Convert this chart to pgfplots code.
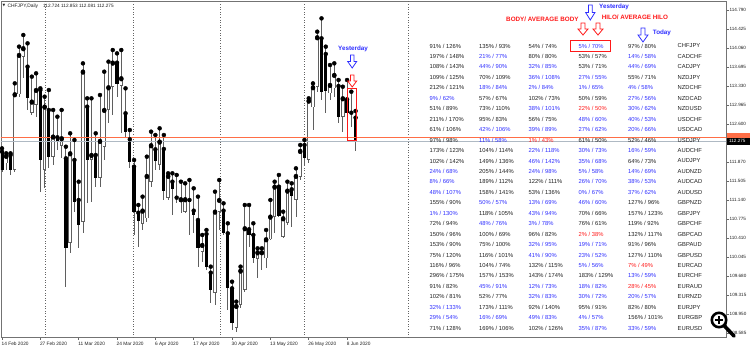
\documentclass[border=0pt]{standalone}
\usepackage{pgfplots}
\pgfplotsset{compat=1.18}
\usepackage{pgfplotstable}
\usepackage{fontspec}
\setmainfont{Liberation Sans}
\newfontfamily\dejavu{DejaVu Sans}
\definecolor{tb}{RGB}{45,45,255}
\definecolor{tr}{RGB}{255,25,25}
\definecolor{tk}{RGB}{30,30,30}
\definecolor{wick}{RGB}{95,95,95}
\definecolor{askc}{RGB}{255,110,70}
\definecolor{bidc}{RGB}{175,185,195}
\definecolor{gridc}{RGB}{100,100,100}
\newcommand\B{\color{tb}}
\newcommand\R{\color{tr}}
\newcommand\ft{\fontsize{5.8}{6}\selectfont}
\newcommand\hb{\fontsize{6.3}{7}\selectfont\bfseries}

\pgfplotstableread{
x o h l c
1 111.846 112.038 111.718 111.987
3 111.718 113.384 111.686 113.173
4 113.173 114.090 113.128 113.929
5 113.897 114.314 113.481 114.058
7 112.808 113.513 112.775 113.032
8 112.968 113.577 112.743 113.256
10 111.718 113.128 111.365 112.936
12 111.974 112.872 111.814 112.359
14 112.179 112.872 111.942 112.327
16 110.308 112.423 110.115 112.038
19 110.724 113.769 110.500 113.609
21 111.910 113.096 111.109 112.006
23 111.558 113.160 111.397 112.275
24 112.166 113.609 111.910 112.872
25 112.872 113.801 112.615 113.308
26 113.308 114.025 112.775 113.782
28 113.340 114.025 112.423 113.481
33 110.679 111.205 110.564 110.936
34 110.788 111.974 110.724 111.602
35 111.493 112.455 111.397 112.192
37 111.814 112.519 111.718 112.263
39 111.173 111.654 111.141 111.602
42 111.109 111.493 110.884 111.154
43 110.916 111.461 110.884 111.154
47 110.147 110.468 109.955 110.275
50 109.346 111.301 109.122 110.916
51 110.916 111.525 110.564 111.141
55 108.673 109.186 108.609 109.102
56 109.122 109.859 109.058 109.782
57 109.410 111.045 109.378 110.596
60 110.000 110.211 109.634 110.134
61 110.115 110.211 109.795 110.134
62 110.019 110.564 109.827 110.384
63 110.384 111.141 110.372 110.820
64 110.820 111.493 110.500 111.397
66 110.436 110.916 110.404 110.788
67 110.705 111.493 110.660 111.320
69 111.141 111.750 110.820 111.602
70 111.590 112.199 111.525 112.083
72 111.910 113.096 111.846 113.051
73 112.923 113.384 112.487 113.308
74 113.320 114.378 113.224 114.269
77 113.192 113.737 113.064 113.352
78 113.288 113.769 113.128 113.545
80 112.743 113.320 112.455 113.096
}\bull

\pgfplotstableread{
x o h l c
0 112.070 112.134 111.686 111.718
2 112.006 112.038 111.622 111.718
6 113.705 114.154 112.872 113.096
9 113.256 113.288 111.301 111.910
11 112.872 113.256 111.750 111.974
13 112.346 112.743 112.102 112.282
15 111.942 112.166 109.474 110.211
17 111.910 112.295 110.916 111.109
18 111.141 111.493 110.211 110.660
20 112.936 113.096 111.077 111.910
22 112.006 112.423 111.397 111.558
27 113.782 113.961 113.128 113.372
29 112.808 113.288 112.327 112.455
30 112.308 112.487 111.750 111.878
31 111.782 111.910 110.468 110.916
32 110.897 111.045 110.243 110.743
36 112.115 112.391 111.718 111.897
38 112.122 112.391 111.141 111.320
40 111.493 111.654 110.852 111.346
41 111.186 111.622 111.077 111.154
44 111.141 111.525 110.468 111.109
45 110.936 111.365 110.500 110.852
46 110.756 111.205 109.859 110.211
48 110.487 110.564 109.795 109.859
49 109.743 109.859 109.154 109.410
52 110.936 111.077 110.468 110.500
53 110.500 110.692 109.025 109.442
54 109.442 109.570 108.641 108.769
58 110.577 111.045 110.243 110.468
59 110.468 110.692 109.923 110.019
65 111.397 111.622 110.820 110.833
68 111.346 111.461 110.628 111.218
71 112.199 112.295 111.795 111.942
75 114.250 114.634 113.064 113.224
76 113.949 114.090 112.808 113.243
79 113.333 113.449 112.615 112.743
81 113.077 113.449 112.775 112.820
82 112.820 113.224 112.551 112.795
83 112.724 112.853 112.081 112.275
}\bear

\newcommand\row[7]{%
 \node[cell] at (429.5,#1) {#2};
 \node[cell] at (479,#1) {#3};
 \node[cell] at (528.5,#1) {#4};
 \node[cell] at (578.5,#1) {#5};
 \node[cell] at (628,#1) {#6};
 \node[cell] at (677.5,#1) {#7};}
\newcommand\darrow[5]{%
 \draw[#5, line width=0.8pt, line join=miter] ({#1-0.2*#3},#2) -- ({#1+0.2*#3},#2) -- ({#1+0.2*#3},{#2+0.5*#4}) -- ({#1+0.5*#3},{#2+0.5*#4}) -- (#1,{#2+#4}) -- ({#1-0.5*#3},{#2+0.5*#4}) -- ({#1-0.2*#3},{#2+0.5*#4}) -- cycle;}

\begin{document}
\begin{tikzpicture}
\useasboundingbox (0,0) rectangle (750pt,-351pt);
\begin{axis}[
 at={(1pt,-337pt)}, anchor=south west,
 scale only axis, width=725pt, height=336pt,
 xmin=-0.235, xmax=169.95, ymin=108.506, ymax=114.968,
 axis line style={draw=black!55, line width=0.7pt},
 xtick={0,9,...,81},
 xticklabels={14 Feb 2020, 27 Feb 2020, 11 Mar 2020, 24 Mar 2020, 6 Apr 2020, 17 Apr 2020, 30 Apr 2020, 13 May 2020, 26 May 2020, 8 Jun 2020},
 xtick pos=bottom,
 xticklabel style={anchor=north west, inner sep=0pt, xshift=-0.5pt, yshift=-2pt, font=\fontsize{4.8}{5}\selectfont, text=tk},
 ytick={114.79,114.425,114.06,113.695,113.33,112.965,112.6,111.87,111.505,111.14,110.775,110.41,110.045,109.68,109.315,108.95,108.585},
 yticklabels={114.790,114.425,114.060,113.695,113.330,112.965,112.600,111.870,111.505,111.140,110.775,110.410,110.045,109.680,109.315,108.950,108.585},
 ytick pos=right, yticklabel pos=right,
 yticklabel style={anchor=west, inner sep=0pt, xshift=1pt, font=\fontsize{4.6}{5}\selectfont, text=tk},
 tick align=outside, major tick length=2.5pt, tick style={black!60, line width=0.5pt},
]
% vertical dotted grid lines
\addplot[gridc, dotted, line width=0.6pt, forget plot] coordinates {(10.25,108.4) (10.25,115.1)};
\addplot[gridc, dotted, line width=0.6pt, forget plot] coordinates {(30.8,108.4) (30.8,115.1)};
\addplot[gridc, dotted, line width=0.6pt, forget plot] coordinates {(51.3,108.4) (51.3,115.1)};
\addplot[gridc, dotted, line width=0.6pt, forget plot] coordinates {(70.9,108.4) (70.9,115.1)};
\addplot[gridc, dotted, line width=0.6pt, forget plot] coordinates {(95.3,108.4) (95.3,115.1)};
% wicks
\addplot[only marks, mark=none, forget plot, error bars/.cd, y dir=minus, y explicit, error mark=none, error bar style={draw=wick, line width=0.85pt}] table[x=x, y=h, y error minus expr=\thisrow{h}-\thisrow{l}] {\bull};
\addplot[only marks, mark=none, forget plot, error bars/.cd, y dir=minus, y explicit, error mark=none, error bar style={draw=wick, line width=0.85pt}] table[x=x, y=h, y error minus expr=\thisrow{h}-\thisrow{l}] {\bear};
% bear bodies
\addplot[only marks, mark=none, forget plot, error bars/.cd, y dir=minus, y explicit, error mark=none, error bar style={draw=black, line width=3.2pt}] table[x=x, y=o, y error minus expr={max(\thisrow{o}-\thisrow{c},0.018)}] {\bear};
% bull bodies
\addplot[only marks, mark=none, forget plot, error bars/.cd, y dir=minus, y explicit, error mark=none, error bar style={draw=wick, line width=3.4pt}] table[x=x, y=c, y error minus expr={max(\thisrow{c}-\thisrow{o},0.02)}] {\bull};
\addplot[only marks, mark=none, forget plot, error bars/.cd, y dir=minus, y explicit, error mark=none, error bar style={draw=white, line width=1.7pt}] table[x=x, y expr=\thisrow{c}-0.016, y error minus expr={max(\thisrow{c}-\thisrow{o}-0.032,0)}] {\bull};
% ask and bid lines
\addplot[askc, line width=0.6pt, forget plot] coordinates {(-1,112.338) (171,112.338)};
\addplot[bidc, line width=0.8pt, forget plot] coordinates {(-1,112.275) (171,112.275)};
\end{axis}

\begin{scope}[x=1pt, y=-1pt, cell/.style={anchor=west, inner sep=0pt, font=\ft, text=tk}]
% title
\node[anchor=west, inner sep=0pt, font=\dejavu\fontsize{3.5}{4}\selectfont, text=tk] at (2.5,6) {▼};
\node[anchor=west, inner sep=0pt, font=\fontsize{4.9}{5}\selectfont, text=tk] at (7.3,6) {CHFJPY,Daily};
\node[anchor=west, inner sep=0pt, font=\fontsize{4.7}{5}\selectfont, text=tk] at (43,6) {112.724 112.853 112.081 112.275};
% current price labels
\fill[askc] (727,132.5) rectangle (750,139);
\fill[black] (727,137.5) rectangle (750,145);
\node[anchor=west, inner sep=0pt, font=\fontsize{4.6}{5}\selectfont, text=white] at (729,141.3) {112.275};
% chart annotations
\node[anchor=west, inner sep=0pt, font=\hb, text=tb] at (338,49) {Yesterday};
\darrow{352.2}{55}{9}{13}{tb}
\darrow{352.2}{75}{9}{12}{tr}
\draw[tr, line width=0.9pt] (347.3,88.3) rectangle (356,140);
% table headers
\node[anchor=west, inner sep=0pt, font=\hb, text=tb] at (599,7) {Yesterday};
\darrow{590.3}{5}{9.3}{15}{tb}
\node[anchor=west, inner sep=0pt, font=\hb, text=tr] at (506,19) {BODY/ AVERAGE BODY};
\node[anchor=west, inner sep=0pt, font=\hb, text=tr] at (601.7,17) {HILO/ AVERAGE HILO};
\darrow{583}{23}{10}{12}{tr}
\darrow{598}{23}{10}{12}{tr}
\darrow{643}{28}{10}{14}{tb}
\node[anchor=west, inner sep=0pt, font=\hb, text=tb] at (652.7,33) {Today};
\draw[tr, line width=0.9pt] (570.7,40) rectangle (610.7,51.7);
% table
\row{46.0}{91\% / 126\%}{135\% / 93\%}{54\% / 74\%}{\B 5\% / 70\%}{97\% / 80\%}{CHFJPY}
\row{56.45}{197\% / 148\%}{\B 21\% / 77\%}{80\% / 80\%}{53\% / 57\%}{\B 14\% / 58\%}{CADCHF}
\row{66.9}{108\% / 143\%}{\B 44\% / 90\%}{\B 32\% / 85\%}{53\% / 71\%}{\B 44\% / 69\%}{CADJPY}
\row{77.35}{109\% / 125\%}{70\% / 109\%}{\B 36\% / 108\%}{\B 27\% / 55\%}{55\% / 71\%}{NZDJPY}
\row{87.8}{212\% / 121\%}{\B 18\% / 84\%}{\B 2\% / 84\%}{\B 1\% / 65\%}{\B 4\% / 58\%}{NZDCHF}
\row{98.25}{\B 9\% / 62\%}{57\% / 67\%}{102\% / 73\%}{50\% / 59\%}{\B 27\% / 56\%}{NZDCAD}
\row{108.7}{51\% / 89\%}{73\% / 110\%}{\B 38\% / 101\%}{\R 22\% / 50\%}{\B 30\% / 62\%}{NZDUSD}
\row{119.15}{211\% / 170\%}{95\% / 83\%}{56\% / 75\%}{\B 48\% / 60\%}{\B 40\% / 53\%}{USDCHF}
\row{129.6}{61\% / 106\%}{\B 42\% / 106\%}{\B 39\% / 89\%}{\B 27\% / 62\%}{\B 20\% / 66\%}{USDCAD}
\row{140.05}{97\% / 98\%}{\B 11\% / 58\%}{\R 1\% / 43\%}{61\% / 50\%}{52\% / 46\%}{USDJPY}
\row{150.5}{173\% / 123\%}{104\% / 114\%}{\B 22\% / 118\%}{\B 30\% / 73\%}{\B 16\% / 59\%}{AUDCHF}
\row{160.95}{102\% / 142\%}{149\% / 136\%}{\B 46\% / 142\%}{\B 35\% / 68\%}{64\% / 73\%}{AUDJPY}
\row{171.4}{\B 24\% / 68\%}{205\% / 144\%}{\B 24\% / 98\%}{\B 5\% / 58\%}{\B 14\% / 69\%}{AUDNZD}
\row{181.85}{\B 8\% / 66\%}{189\% / 112\%}{122\% / 111\%}{\B 26\% / 70\%}{\B 38\% / 53\%}{AUDCAD}
\row{192.3}{\B 48\% / 107\%}{158\% / 141\%}{53\% / 136\%}{\B 0\% / 67\%}{\B 37\% / 62\%}{AUDUSD}
\row{202.75}{155\% / 90\%}{\B 50\% / 57\%}{\B 13\% / 69\%}{\B 46\% / 60\%}{127\% / 96\%}{GBPNZD}
\row{213.2}{\B 1\% / 130\%}{118\% / 105\%}{\B 43\% / 94\%}{70\% / 66\%}{157\% / 123\%}{GBPJPY}
\row{223.65}{72\% / 94\%}{\B 48\% / 76\%}{\B 3\% / 78\%}{76\% / 61\%}{119\% / 92\%}{GBPCHF}
\row{234.1}{150\% / 96\%}{100\% / 69\%}{96\% / 82\%}{\R 2\% / 38\%}{132\% / 117\%}{GBPCAD}
\row{244.55}{153\% / 90\%}{75\% / 100\%}{\B 32\% / 95\%}{\B 19\% / 71\%}{91\% / 96\%}{GBPAUD}
\row{255.0}{75\% / 120\%}{116\% / 101\%}{\B 41\% / 90\%}{\B 23\% / 52\%}{127\% / 110\%}{GBPUSD}
\row{265.45}{116\% / 96\%}{104\% / 74\%}{132\% / 115\%}{\B 5\% / 56\%}{\R 7\% / 49\%}{EURCAD}
\row{275.9}{296\% / 175\%}{157\% / 153\%}{143\% / 174\%}{183\% / 129\%}{\B 13\% / 59\%}{EURCHF}
\row{286.35}{91\% / 82\%}{\B 45\% / 91\%}{\B 12\% / 73\%}{\B 18\% / 82\%}{\R 28\% / 45\%}{EURAUD}
\row{296.8}{102\% / 81\%}{52\% / 77\%}{\B 32\% / 83\%}{\B 30\% / 72\%}{\B 20\% / 57\%}{EURNZD}
\row{307.25}{\B 32\% / 133\%}{173\% / 111\%}{92\% / 140\%}{95\% / 91\%}{82\% / 80\%}{EURJPY}
\row{317.7}{\B 29\% / 54\%}{\B 16\% / 69\%}{\B 49\% / 83\%}{\B 4\% / 57\%}{156\% / 101\%}{EURGBP}
\row{328.15}{71\% / 128\%}{169\% / 106\%}{102\% / 126\%}{\B 35\% / 87\%}{\B 33\% / 59\%}{EURUSD}
% zoom icon overlay
\draw[black, line width=2.6pt] (719,320) circle (7.2);
\draw[black, line width=3.6pt, line cap=round] (724.5,326) -- (734,336);
\draw[black, line width=1.8pt] (715,320) -- (723,320) (719,316) -- (719,324);
\end{scope}
\end{tikzpicture}
\end{document}
